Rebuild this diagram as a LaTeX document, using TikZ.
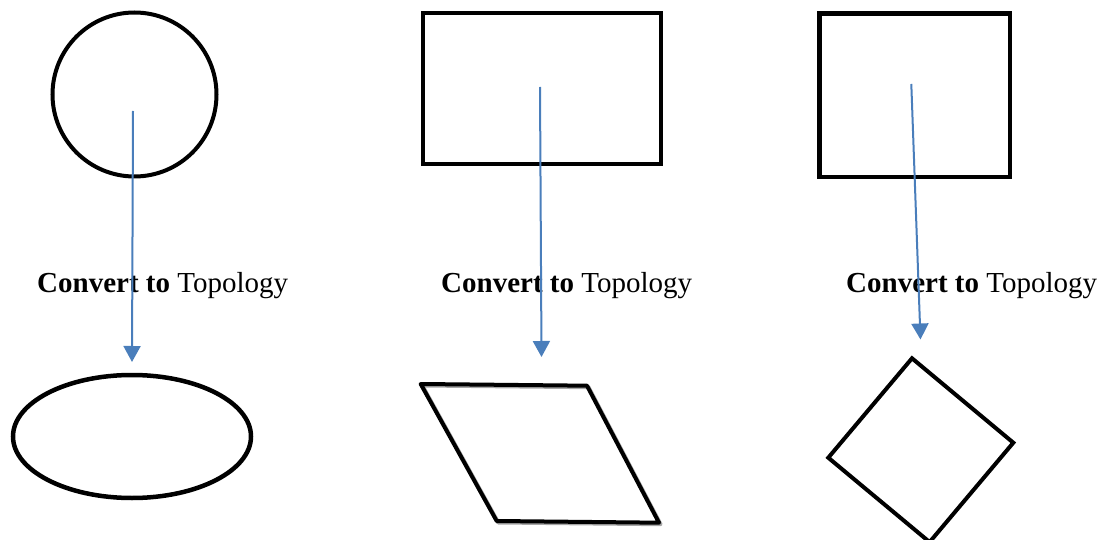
\documentclass[tikz,border=0pt]{standalone}
\usepackage{fontspec}
\setmainfont{Liberation Serif}
\usetikzlibrary{arrows.meta}
\definecolor{arrowblue}{HTML}{4A7EBB}
\tikzset{
  shapeline/.style={draw=black, line width=4pt},
  flowarrow/.style={draw=arrowblue, line width=2pt, -{Triangle[width=17pt,length=16pt]}},
  caption/.style={anchor=base west, inner sep=0pt, font=\fontsize{29}{34}\selectfont},
}
\begin{document}
\begin{tikzpicture}[x=1pt,y=-1pt]
\useasboundingbox (0,0) rectangle (1101,540);
% top shapes
\draw[shapeline] (134.5,94.5) circle[radius=82];
\draw[shapeline] (422.5,13) rectangle (661,164);
\draw[shapeline, line width=4.5pt] (819.6,13.5) rectangle (1010,177);
% bottom shapes
\draw[shapeline, line width=4.5pt] (132,436.5) ellipse[x radius=119, y radius=61.5];
\draw[gray!70, line width=4pt, line join=round] (422.2,385.5) -- (588.5,387.2) -- (660.5,524.2) -- (498.2,522.5) -- cycle;
\draw[black, line width=4pt, line join=round] (420.7,384) -- (587,385.7) -- (659,522.7) -- (496.7,521) -- cycle;
\draw[shapeline] (912,358.3) -- (1013.3,442.7) -- (929.6,542.1) -- (828.3,457.7) -- cycle;
% captions
\node[caption] (c1) at (37,293) {\textbf{Convert to} Topology};
\node[caption] (c2) at (441,293) {\textbf{Convert to} Topology};
\node[caption] (c3) at (846,293) {\textbf{Convert to} Topology};
% arrow ends
\coordinate (s1) at (133,111);
\coordinate (e1) at (132,362);
\coordinate (s2) at (540,87);
\coordinate (e2) at (541.5,357);
\coordinate (s3) at (911.3,84);
\coordinate (e3) at (920.5,339.5);
\draw[flowarrow] (s1) -- (e1);
\draw[flowarrow] (s2) -- (e2);
\draw[flowarrow] (s3) -- (e3);
\end{tikzpicture}
\end{document}
